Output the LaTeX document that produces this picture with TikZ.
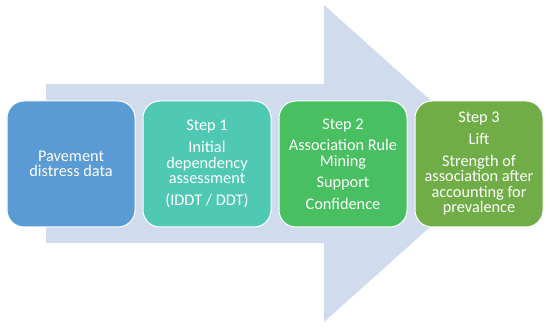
\documentclass[tikz,border=0pt]{standalone}
\usepackage{fontspec}
\setmainfont{Carlito}
\usetikzlibrary{positioning}
\definecolor{arrowblue}{HTML}{D0DCEE}
\definecolor{datablue}{HTML}{5B9BD5}
\definecolor{stepteal}{HTML}{4FC9B3}
\definecolor{stepgreen}{HTML}{48BF61}
\definecolor{stepolive}{HTML}{70AD47}
\tikzset{
    every picture/.style={line join=round},
    stagebox/.style={draw=white,line width=1pt,rounded corners=17pt,
      minimum width=128pt,minimum height=126pt,inner sep=3pt,outer sep=0pt,
      text=white,font=\fontsize{16.3}{15.6}\selectfont,align=center},
    bigarrow/.style={fill=arrowblue,draw=none}
}
\begin{document}
\begin{tikzpicture}[x=1pt,y=-1pt,node distance=8pt]
  \useasboundingbox (0,0) rectangle (550,328);
  % background arrow
  \fill[bigarrow] (46,84) -- (324,84) -- (324,5) -- (501,163.5)
    -- (324,322) -- (324,243) -- (46,243) -- cycle;

  \node[stagebox,fill=datablue] (data) at (71,164)
    {Pavement\\distress data};
  \node[stagebox,fill=stepteal,right=of data] (step1)
    {Step 1\\[6pt]Initial\\dependency\\assessment\\[6pt](IDDT / DDT)};
  \node[stagebox,fill=stepgreen,right=of step1] (step2)
    {Step 2\\[6pt]Association Rule\\Mining\\[6pt]Support\\[6pt]Confidence};
  \node[stagebox,fill=stepolive,right=of step2] (step3)
    {Step 3\\[6pt]Lift\\[6pt]Strength of\\association after\\accounting for\\prevalence};
\end{tikzpicture}
\end{document}
